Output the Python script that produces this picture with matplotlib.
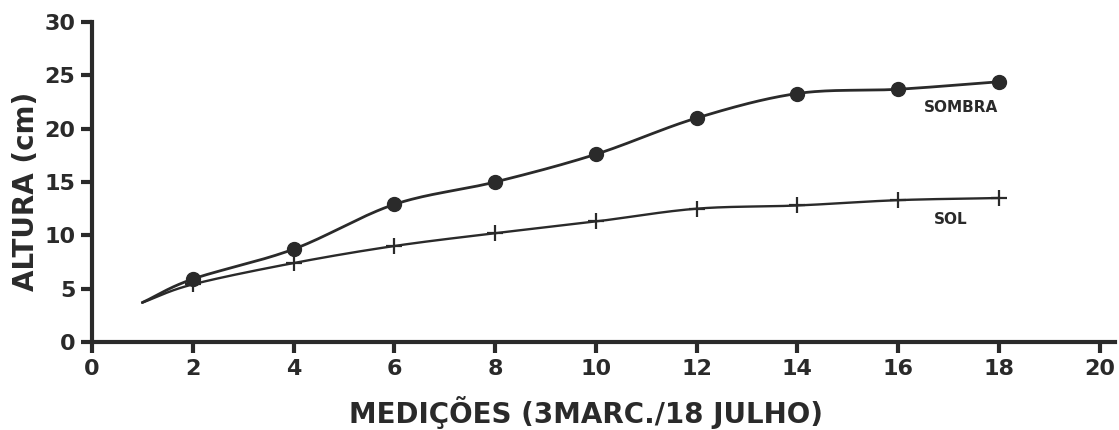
import numpy as np
import matplotlib.pyplot as plt

# medições (curve starts at 1, markers at even points)
x_sombra = [1, 2, 4, 6, 8, 10, 12, 14, 16, 18]
y_sombra = [3.7, 5.9, 8.7, 12.9, 15.0, 17.6, 21.0, 23.3, 23.7, 24.4]
x_sol = [1, 2, 4, 6, 8, 10, 12, 14, 16, 18]
y_sol = [3.7, 5.4, 7.4, 9.0, 10.2, 11.3, 12.5, 12.8, 13.3, 13.5]

x_ticks = [0, 2, 4, 6, 8, 10, 12, 14, 16, 18, 20]
y_ticks = [0, 5, 10, 15, 20, 25, 30]

INK = "#2a2a2a"


def smooth(xs, ys, n=30):
    # catmull-rom through the points, just for the hand-drawn look
    xs = np.asarray(xs, float)
    ys = np.asarray(ys, float)
    px = np.concatenate([[2 * xs[0] - xs[1]], xs, [2 * xs[-1] - xs[-2]]])
    py = np.concatenate([[2 * ys[0] - ys[1]], ys, [2 * ys[-1] - ys[-2]]])
    ox, oy = [], []
    t = np.linspace(0, 1, n)
    for i in range(1, len(px) - 2):
        for arr, out in ((px, ox), (py, oy)):
            p0, p1, p2, p3 = arr[i - 1], arr[i], arr[i + 1], arr[i + 2]
            out.extend(0.5 * ((2 * p1) + (-p0 + p2) * t
                              + (2 * p0 - 5 * p1 + 4 * p2 - p3) * t ** 2
                              + (-p0 + 3 * p1 - 3 * p2 + p3) * t ** 3))
    return ox, oy


fig = plt.figure(figsize=(11.19, 4.30), dpi=100)
ax = fig.add_axes([0.0822, 0.2047, 0.914, 0.744])

sx, sy = smooth(x_sombra, y_sombra)
ax.plot(sx, sy, color=INK, lw=2.0, solid_capstyle="round")
ax.plot(x_sombra[1:], y_sombra[1:], "o", color=INK, ms=10)

lx, ly = smooth(x_sol, y_sol)
ax.plot(lx, ly, color=INK, lw=1.7)
ax.plot(x_sol[1:], y_sol[1:], "+", color=INK, ms=12, mew=1.6)

ax.text(17.25, 22.0, "SOMBRA", fontsize=11, fontweight="bold", color=INK,
        ha="center", va="center")
ax.text(17.05, 11.5, "SOL", fontsize=11, fontweight="bold", color=INK,
        ha="center", va="center")

ax.set_xlim(0, 20.3)
ax.set_ylim(0, 30)
ax.set_xticks(x_ticks)
ax.set_yticks(y_ticks)
ax.spines["top"].set_visible(False)
ax.spines["right"].set_visible(False)
for s in ("left", "bottom"):
    ax.spines[s].set_linewidth(3)
    ax.spines[s].set_color(INK)
ax.tick_params(width=3, length=8, color=INK, labelsize=16, labelcolor=INK,
               pad=4)
for lab in ax.get_xticklabels() + ax.get_yticklabels():
    lab.set_fontweight("bold")

ax.set_xlabel("MEDIÇÕES (3MARC./18 JULHO)", fontsize=20, fontweight="bold",
              color=INK)
ax.xaxis.set_label_coords(0.483, -0.17)
ax.set_ylabel("ALTURA (cm)", fontsize=20, fontweight="bold", color=INK)
ax.yaxis.set_label_coords(-0.051, 0.47)

fig.savefig("out.png", dpi=100)
